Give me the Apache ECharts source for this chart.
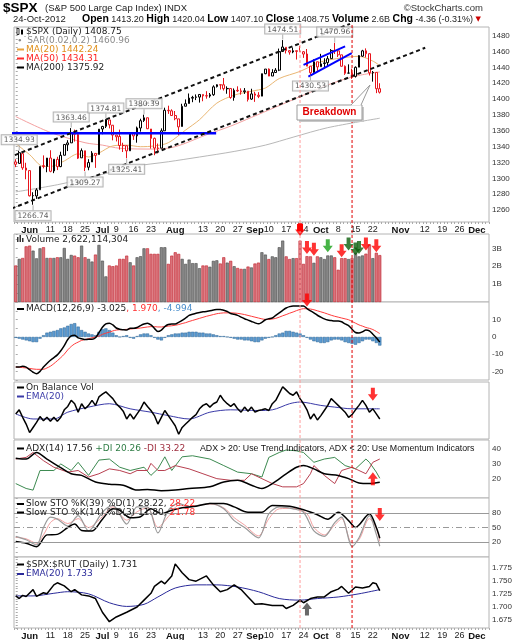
<!DOCTYPE html>
<html>
<head>
<meta charset="utf-8">
<script src="https://cdn.jsdelivr.net/npm/echarts@6.0.0/dist/echarts.min.js"></script>
<style>html,body{margin:0;padding:0;background:#fff;}</style>
</head>
<body>
<div id="main" style="width:529px;height:640px;"></div>
<script type="text/javascript">
// trading days on the axis: 25-May-2012 .. 6-Dec-2012
var holidays = ['2012-07-04', '2012-09-03'];
var dates = [];
var d = new Date(Date.UTC(2012, 4, 25));
while (dates.length < 137) {
	var s = d.toISOString().slice(0, 10), wd = d.getUTCDay();
	if (wd != 0 && wd != 6 && holidays.indexOf(s) < 0) dates.push(s);
	d.setUTCDate(d.getUTCDate() + 1);
}
var tickIdx = [4,10,15,20,25,29,34,39,46,54,59,64,69,73,78,83,88,93,98,103,111,118,123,128,133];
var tickText = ['Jun','11','18','25','Jul','9','16','23','Aug','13','20','27','Sep','10','17','24','Oct','8','15','22','Nov','12','19','26','Dec'];

// $SPX daily
var prevClose0 = 1320.68;
var opens = [1320.81,1318.90,1331.25,1313.09,1309.87,1278.29,1277.82,1285.61,1316.15,1314.99,1325.72,1309.40,1324.02,1314.88,1329.19,1342.42,1344.83,1358.04,1355.43,1325.92,1334.90,1314.09,1320.71,1331.52,1330.12,1362.33,1365.75,1373.72,1367.09,1354.66,1352.96,1341.40,1341.29,1334.81,1356.50,1353.68,1363.58,1373.01,1376.51,1362.34,1350.52,1338.35,1338.17,1360.05,1385.94,1385.27,1379.32,1375.13,1365.45,1391.04,1394.46,1401.23,1402.26,1402.58,1405.87,1404.36,1403.89,1405.57,1415.84,1417.85,1418.13,1413.09,1413.49,1401.99,1411.13,1410.44,1409.32,1410.08,1400.07,1406.54,1404.94,1403.74,1432.12,1437.92,1429.13,1433.56,1436.56,1460.07,1465.42,1461.19,1459.50,1461.05,1460.34,1459.76,1456.94,1441.60,1433.36,1447.13,1440.90,1444.99,1446.05,1451.08,1461.40,1460.93,1455.90,1441.48,1432.82,1432.84,1428.75,1440.31,1454.22,1460.94,1457.34,1433.21,1433.74,1413.20];
var highs = [1324.20,1334.93,1331.25,1319.74,1309.87,1282.55,1287.62,1315.13,1329.05,1325.81,1335.52,1324.31,1327.28,1333.68,1343.32,1348.22,1363.46,1361.57,1358.27,1337.82,1334.90,1324.24,1334.40,1331.52,1362.17,1366.35,1374.81,1373.85,1367.09,1354.87,1361.54,1345.00,1341.29,1357.70,1357.26,1365.36,1375.26,1380.39,1376.51,1362.34,1351.53,1343.98,1363.13,1389.19,1391.74,1387.16,1385.03,1375.13,1394.16,1399.63,1407.14,1404.14,1405.95,1405.98,1405.87,1410.03,1407.73,1417.44,1418.71,1418.13,1426.68,1416.12,1413.49,1413.46,1416.17,1413.63,1413.95,1410.08,1413.09,1409.31,1408.81,1432.12,1437.92,1438.74,1437.76,1439.15,1463.76,1474.51,1465.63,1461.47,1465.15,1461.23,1467.07,1460.72,1463.24,1441.60,1450.20,1447.13,1457.14,1451.52,1454.30,1463.14,1470.96,1460.93,1455.90,1442.52,1443.90,1438.43,1441.31,1455.51,1462.20,1464.02,1457.34,1435.46,1433.74,1420.04];
var lows = [1314.23,1318.90,1310.76,1298.90,1277.25,1266.74,1274.16,1285.61,1312.68,1307.77,1307.73,1306.62,1310.51,1314.14,1329.19,1334.46,1344.83,1346.45,1324.41,1325.92,1309.27,1310.30,1320.71,1313.29,1330.12,1355.70,1363.53,1363.02,1348.03,1346.65,1336.27,1333.25,1325.41,1334.81,1348.51,1345.07,1358.96,1371.21,1362.19,1337.56,1329.24,1331.50,1338.17,1360.05,1381.37,1379.17,1373.35,1354.65,1365.45,1391.04,1394.46,1396.13,1398.80,1395.62,1397.32,1400.60,1401.83,1404.15,1414.67,1412.12,1410.86,1406.78,1400.50,1398.04,1409.11,1405.59,1406.57,1397.01,1398.96,1396.56,1401.25,1403.74,1431.45,1428.98,1429.13,1432.99,1435.34,1460.07,1457.55,1456.13,1457.88,1449.98,1459.51,1452.06,1441.59,1430.53,1433.36,1435.60,1440.90,1439.01,1441.99,1451.08,1456.89,1453.10,1441.18,1430.64,1432.82,1425.53,1427.24,1440.31,1453.35,1452.63,1429.85,1422.06,1407.56,1407.10];
var closes = [1317.82,1332.42,1313.32,1310.33,1278.04,1278.18,1285.50,1315.13,1314.99,1325.66,1308.93,1324.18,1314.88,1329.10,1342.84,1344.78,1357.98,1355.69,1325.51,1335.02,1313.72,1319.99,1331.85,1329.04,1362.16,1365.51,1374.02,1367.58,1354.68,1352.46,1341.47,1341.45,1334.76,1356.78,1353.64,1363.67,1372.78,1376.51,1362.66,1350.52,1338.31,1337.89,1360.02,1385.97,1385.30,1379.32,1375.32,1365.00,1390.99,1394.23,1401.35,1402.22,1402.80,1405.87,1404.11,1403.93,1405.53,1415.51,1418.16,1418.13,1413.17,1413.49,1402.08,1411.13,1410.44,1409.30,1410.49,1399.48,1406.58,1404.94,1403.44,1432.12,1437.92,1429.08,1433.56,1436.56,1459.99,1465.77,1461.19,1459.32,1461.05,1460.26,1460.15,1456.89,1441.59,1433.32,1447.15,1440.67,1444.49,1445.75,1450.99,1461.40,1460.93,1455.88,1441.48,1432.56,1432.84,1428.59,1440.13,1454.92,1460.91,1457.34,1433.19,1433.82,1413.11,1408.75];
// volume, billions
var volume = [2.04,2.41,2.46,3.11,3.15,2.87,2.44,3.0,3.06,2.46,2.46,2.46,2.5,2.5,3.02,2.41,2.63,2.59,2.5,3.15,2.5,2.41,2.26,2.65,3.19,2.31,1.43,2.04,2.0,2.04,2.41,2.41,2.59,2.22,2.04,2.5,2.56,3.0,3.0,2.69,2.69,2.69,3.06,3.06,2.13,2.59,2.78,2.69,2.41,2.13,2.37,2.17,2.17,1.89,2.04,2.04,1.97,2.3,2.33,2.15,2.5,2.2,2.3,2.0,1.9,1.85,1.85,1.98,1.93,2.15,2.2,2.78,2.65,2.4,2.55,2.5,3.06,3.43,2.55,2.4,2.45,2.45,3.43,2.13,2.56,2.55,2.19,2.55,2.5,2.4,2.6,2.6,2.5,1.8,2.45,2.45,2.4,2.45,2.75,2.55,2.6,2.7,3.2,2.45,2.75,2.62];

// overlays: [day index, value]
var ma20 = [[0,1344],[4,1330],[8,1315],[10,1315],[14,1322],[18,1331],[21,1327],[24,1332],[28,1341],[32,1342],[36,1340],[40,1341],[44,1345],[49,1361],[53,1374],[58,1395],[63,1405],[68,1410],[72,1414],[76,1426],[82,1435],[88,1447],[94,1452],[99,1454],[103,1448],[105,1442.24]];
var ma50 = [[0,1378],[10,1358],[20,1345],[25,1342],[30,1338],[40,1337],[46,1340],[55,1355],[62,1366],[68,1377],[75,1390],[83,1405],[90,1418],[98,1429],[105,1434.31]];
var ma200 = [[0,1283],[12,1292],[24,1304],[34,1315],[44,1321],[53,1327],[63,1334],[72,1342],[80,1352],[90,1364],[105,1375.92]];
var hiLabelIdx = [1,16,26,37,77,92];
var hiLabelVal = [1334.93,1363.46,1374.81,1380.39,1474.51,1470.96];
var loLabelIdx = [5,20,32,85];
var loLabelVal = [1266.74,1309.27,1325.41,1430.53];
// hand drawn lines: [day position, price]
var upperTrend = [[-4,1323],[96.4,1495]];
var lowerTrend = [[-1.2,1262],[118.1,1464.8]];
var blueLevel = [[-4.5,1357],[57.8,1357]];
var flagTop = [[83,1443.3],[95,1466.5]];
var flagBottom = [[84.4,1428.5],[96.9,1458]];
var eventIdx = [82,97];

// MACD(12,26,9)
var macd = [-17.4,-17.5,-17,-17.5,-19,-20.5,-21.4,-20,-17.5,-15.4,-13.5,-12,-10.4,-8,-5,-1.5,0.6,1,-0.5,-1,-1.5,-1.4,-1.4,-0.5,2.5,5.6,7.6,8,7,5.2,4.5,4.2,4,5,5,5.5,6.6,7.5,8,7,5,3.2,4,6,7.2,7.5,7.5,8.5,9.6,11,12.5,13.2,13.8,14.2,14.6,14.8,15.2,15.6,16,16,15.5,14.8,13.6,13.2,12.5,11.5,10.6,9.8,9,8.2,7.6,8.5,10,10.6,11,12.5,14,15.5,16.8,17.6,18,18,18,18,16.5,15.2,14,12.6,11.5,10.5,9.8,9.5,9.2,9.3,8.8,7.6,6.6,4.5,2.6,2.3,3,4,3.5,1.6,-0.5,-3.025];
var macdSignal = [-17.4,-17.6,-17.8,-18,-18.3,-18.6,-18.8,-18.8,-18.8,-18,-17,-15.5,-13.8,-12,-10,-7.5,-5.5,-4,-3,-2,-1.5,-1,-0.5,0,0.5,1.5,2.2,2.8,3.5,4,4.2,4.3,4.4,4.6,4.8,5,5.2,5.5,5.8,6,6,5.8,5.8,6,6.3,6.5,6.8,7.2,7.8,8.3,9,9.6,10.2,10.8,11.4,12,12.5,13,13.5,13.8,14,14,14,13.9,13.7,13.4,13,12.5,12,11.5,11,10.5,10.2,10.2,10.4,10.8,11.5,12.3,13,13.8,14.5,15.3,16,16.4,16.4,16.2,15.8,15.2,14.6,14,13.3,12.6,12,11.5,11,10.5,10,9,8,7,6.3,5.5,5,4.3,3.2,1.97];
var macdHist = [-0.5,-1,-1.5,-2,-2.5,-3,-3,-1,1,2.5,3,3.5,4,5,5.5,6.5,7.5,8,6,4,3,2,1.5,1,3,4.5,5,4,2.5,1,0,0.5,1,-0.5,-1,0.5,1.5,2,2,1,-0.5,-1.5,-2,-0.5,1,1.5,2,2,2.5,2.5,3,3,3,2.5,2.5,2,2,1.5,1,0.5,0.5,0,-0.5,-1,-1.5,-1.5,-2,-2,-2.5,-3,-3,-2,-1,-0.5,0,1,2,2.5,3.5,3.5,3,2.5,2,1,-0.5,-1.5,-2.5,-3,-3.5,-3.5,-3,-2,-1.5,-1.5,-2,-3,-3.5,-4,-4.5,-3.5,-2.5,-1.5,-1.5,-2.5,-3.5,-4.994];

// On Balance Volume (relative units) and its EMA(20)
var obv = [7.0,8.2,6.0,4.0,1.5,3.0,4.5,6.2,5.0,6.0,4.8,6.0,4.8,6.0,8.2,9.2,11.0,10.0,7.5,10.0,8.5,9.5,11.0,9.5,12.0,12.8,13.5,12.5,11.5,10.0,9.0,7.8,5.5,7.0,5.5,7.0,8.5,10.5,9.2,8.0,6.5,4.0,6.0,8.0,6.5,5.0,3.5,1.0,3.0,4.0,5.0,6.0,6.8,8.5,9.5,10.0,9.0,10.0,10.5,12.5,11.0,10.0,9.2,10.0,8.5,7.5,9.0,7.8,9.0,7.5,8.0,8.2,8.5,8.0,10.0,11.0,13.0,15.0,14.0,13.0,12.5,13.5,11.5,10.0,8.2,5.5,7.0,5.2,6.5,8.0,9.5,11.5,10.5,9.5,8.5,7.5,6.0,6.8,8.2,9.5,11.0,9.5,7.5,8.5,7.0,5.5];
var obvEma = [[0,7.0],[5,5.5],[11,5.5],[15,7.5],[21,9.0],[27,10.0],[33,8.5],[39,7.5],[44,6.5],[50,5.5],[56,7.5],[62,8.2],[70,8.0],[74,8.2],[79,10.0],[82,10.5],[88,9.5],[92,9.0],[97,8.5],[101,8.5],[105,8.5]];

// ADX(14), +DI, -DI
var adx = [[0,33.8],[3,33.2],[6,37.6],[9,33.2],[12,28.8],[16,23.3],[19,22.2],[23,17.8],[27,16.3],[31,15.6],[35,12.3],[38,12.7],[42,11.9],[46,12.3],[50,13.4],[56,14.5],[60,17.8],[64,18.9],[68,15.6],[71,13.4],[74,16.7],[78,23.3],[81,27.7],[83,28.8],[86,26.6],[89,23.3],[93,22.2],[96,20],[99,17.1],[102,16.7],[105,17.56]];
var diPlus = [[0,16.7],[3,13.4],[5,12.3],[7,25.5],[11,25.5],[13,29.9],[16,25.5],[18,31],[21,22.2],[24,32.5],[27,33.2],[30,27.7],[33,25.5],[37,27.7],[39,22.2],[41,26.6],[43,34.7],[45,25.5],[48,34.7],[51,35.4],[56,33.2],[60,28.8],[64,24.4],[68,23.3],[71,21.1],[73,34.3],[76,37.6],[78,39.3],[81,38.7],[83,37.6],[86,31],[89,33.2],[92,34.3],[95,28.8],[98,26.6],[101,33.2],[102,31],[104,24.4],[105,20.26]];
var diMinus = [[0,33.2],[3,34.3],[5,37.6],[8,32.1],[11,27.7],[15,24.4],[18,25.5],[21,21.1],[24,23.3],[27,26.6],[30,25.5],[33,23.3],[35,25.5],[38,25.5],[39,30.3],[41,25.5],[43,25.5],[46,28.8],[50,26.6],[54,23.3],[58,20],[62,18.9],[66,18.9],[68,23.3],[71,20],[74,16.7],[77,14.5],[81,14.5],[83,16.7],[85,23.3],[86,28.8],[89,22.2],[92,16.7],[94,25.5],[97,27.7],[99,25.5],[101,23.3],[103,31],[105,33.22]];

// Slow stochastics
var stoK39 = [[0,21.5],[3,18],[6,11],[9,35],[12,36],[15,50],[17,57],[19,44],[22,43],[25,67],[28,88],[30,85],[33,70],[36,72],[39,88],[42,78],[45,85],[48,90],[52,93],[56,99],[60,99],[63,92],[67,81],[71,81],[74,95],[79,93],[83,86],[87,76],[90,67],[93,81],[96,64],[98,50],[99,55],[102,78],[104,50],[105,28.22]];
var stoK14 = [[0,32],[3,25],[6,14.5],[8,50],[10,71],[12,67],[15,53],[18,74],[21,43],[25,81],[28,95],[32,57],[35,92],[38,92],[41,39],[44,85],[47,99],[50,92],[56,99],[60,88],[63,64],[66,50],[70,29],[73,78],[76,92],[80,88],[83,81],[86,43],[89,32],[92,60],[94,71],[97,11],[99,29],[102,74],[104,36],[105,11.8]];
var stoD3 = [[0,30],[3,27],[6,18],[8,35],[10,60],[12,68],[15,58],[18,68],[21,50],[25,72],[28,92],[32,65],[35,82],[38,90],[41,50],[44,72],[47,95],[50,93],[56,98],[60,90],[63,70],[66,55],[70,33],[73,68],[76,88],[80,89],[84,78],[86,50],[89,35],[92,55],[94,68],[97,18],[99,25],[102,68],[104,48],[105,21.78]];

// $SPX:$RUT ratio
var ratio = [[0,1.721],[1,1.716],[2,1.722],[3,1.720],[5,1.733],[6,1.720],[8,1.727],[9,1.725],[11,1.742],[12,1.746],[14,1.740],[16,1.729],[17,1.733],[19,1.723],[21,1.721],[23,1.716],[25,1.690],[27,1.672],[29,1.681],[32,1.690],[35,1.700],[37,1.713],[39,1.726],[40,1.739],[42,1.749],[43,1.744],[45,1.759],[46,1.782],[48,1.765],[50,1.752],[52,1.749],[55,1.759],[57,1.742],[59,1.729],[61,1.733],[63,1.742],[65,1.733],[67,1.719],[69,1.705],[71,1.706],[74,1.703],[77,1.703],[78,1.697],[80,1.703],[82,1.713],[83,1.708],[85,1.716],[87,1.719],[89,1.719],[91,1.729],[93,1.734],[94,1.739],[96,1.726],[98,1.738],[100,1.736],[102,1.739],[103,1.746],[104,1.744],[105,1.731]];
var ratioEma = [[0,1.721],[5,1.721],[11,1.726],[15,1.729],[21,1.725],[27,1.708],[32,1.701],[37,1.705],[41,1.719],[46,1.736],[52,1.742],[58,1.742],[64,1.738],[70,1.729],[76,1.716],[82,1.713],[87,1.716],[93,1.719],[99,1.725],[105,1.733]];

// arrows: [day index, value]
var volArrowsRed = [[82,4.05],[84,3.05],[86,2.95],[94,2.87],[101,3.24],[104,3.15]];
var volArrowsGreen = [[90,3.15]];
var volArrowsDark = [[96,3.24],[98,2.96],[99,3.05]];
var macdArrow = [[84,21.4]];
var obvArrow = [[103,12.8]];
var adxArrow = [[103,20]];
var stoArrow = [[105,76.5]];
var ratioArrow = [[84,1.696]];

var RED = '#e8141c';
var ARROW_DOWN = 'path://M3,0H7V6H10L5,12L0,6H3Z';
var ARROW_UP = 'path://M5,0L10,6H7V12H3V6H0Z';
var panels = [[27,195],[234,68],[302,78],[382,57],[440,58],[498,59],[557,71]];

function isDown(i) { return closes[i] < (i ? closes[i-1] : prevClose0); }
function tickShown(i) { return tickIdx.indexOf(i) >= 0; }

var xAxes = [], yAxes = [];
panels.forEach(function (p, g) {
	var lab = (g == 0 || g == 6);
	xAxes.push({
		type: 'category', gridIndex: g, data: dates, boundaryGap: true,
		axisLine: {show: false},
		axisTick: {show: lab, interval: 0, length: 2, lineStyle: {color: '#aaa'}},
		axisLabel: {
			show: lab, interval: function (i) { return tickShown(i); }, margin: 3,
			fontSize: 9, fontFamily: 'Liberation Sans', color: '#222',
			formatter: function (v, i) {
				var t = tickText[tickIdx.indexOf(i)];
				return /^[A-Z]/.test(t) ? '{m|' + t + '}' : t;
			},
			rich: {m: {fontWeight: 'bold', fontSize: 9.5, fontFamily: 'Liberation Sans', color: '#111'}}
		},
		splitLine: {show: false}
	});
});
panels.forEach(function (p, g) {
	xAxes.push({type: 'value', gridIndex: g, min: -0.5, max: dates.length - 0.5, show: false});
});
function yAx(g, min, max, interval, fmt, tick) {
	var a = {
		type: 'value', gridIndex: g, position: 'right', min: min, max: max,
		splitLine: {show: false}, axisLine: {show: false},
		axisTick: {show: !!tick, length: 2, lineStyle: {color: '#aaa'}},
		axisLabel: {show: !!fmt, formatter: fmt, fontSize: 8, color: '#333', fontFamily: 'Liberation Sans', margin: 3}
	};
	if (interval) a.interval = interval;
	return a;
}
yAxes.push(yAx(0, 1245, 1491, 5, function (v) { return v % 20 === 0 ? String(v) : ''; }, true));
yAxes.push(yAx(1, 0, 3.8, 0.5, function (v) { return (v > 0 && Math.abs(v - Math.round(v)) < 1e-6) ? Math.round(v) + 'B' : ''; }, true));
yAxes.push(yAx(2, -25, 20.3, 5, function (v) { var r = Math.round(v); return (r % 10 === 0 && r >= -20 && r <= 10) ? String(r) : ''; }, true));
yAxes.push(yAx(3, -0.4, 16.4, null, null, false));
yAxes.push(yAx(4, 7, 46, 1, function (v) { return (v % 10 === 0 && v >= 20 && v <= 40) ? String(v) : ''; }, false));
yAxes.push(yAx(5, -10, 110, 10, function (v) { return (v === 20 || v === 50 || v === 80) ? String(v) : ''; }, true));
yAxes.push(yAx(6, 1.66, 1.795, 0.005, function (v) { var m = Math.round(v * 1000); return (m % 25 === 0 && m >= 1675 && m <= 1775) ? (m / 1000).toFixed(3) : ''; }, true));

function line(g, data, color, width, smooth, z) {
	return {type: 'line', xAxisIndex: g, yAxisIndex: g, data: data, symbol: 'none', smooth: smooth ? 0.3 : false,
		lineStyle: {color: color, width: width}, silent: true, z: z || 2};
}
function drawn(data, color, width, dash) {
	return {type: 'line', xAxisIndex: 7, yAxisIndex: 0, data: data, symbol: 'none', clip: false, silent: true,
		lineStyle: {color: color, width: width, type: dash ? [4, 3] : 'solid'}, z: 12};
}
function arrows(g, pts, color, up) {
	return {type: 'scatter', xAxisIndex: g, yAxisIndex: g, data: pts, symbol: up ? ARROW_UP : ARROW_DOWN,
		symbolSize: [10, 13], itemStyle: {color: color}, clip: false, silent: true, z: 20};
}
function priceLabels(idx, val, above) {
	return {type: 'scatter', xAxisIndex: 0, yAxisIndex: 0, silent: true, clip: false, z: 15,
		data: idx.map(function (x, i) { return [x, val[i]]; }),
		symbol: 'rect', symbolSize: [1, 5], symbolOffset: [0, above ? -3 : 3], itemStyle: {color: '#999'},
		label: {show: true, position: above ? 'top' : 'bottom', distance: 1,
			formatter: function (p) { return p.value[1].toFixed(2); },
			fontSize: 7.5, fontFamily: 'DejaVu Sans', color: '#333', backgroundColor: '#fff',
			borderColor: '#a0a0a0', borderWidth: 1, padding: [1, 2, 0, 2]}};
}

var series = [
	line(0, ma200, '#b8b8b8', 1, true, 1),
	line(0, ma50, '#f4a0a0', 1, true, 1),
	line(0, ma20, '#eab774', 1, true, 1),
	{type: 'candlestick', xAxisIndex: 0, yAxisIndex: 0, barWidth: '62%', silent: true, z: 3,
		data: closes.map(function (c, i) {
			var col = isDown(i) ? RED : '#000';
			return {value: [opens[i], c, lows[i], highs[i]],
				itemStyle: {color: '#fff', color0: col, borderColor: col, borderColor0: col, borderColorDoji: col, borderWidth: 1}};
		})},
	drawn(blueLevel, '#0000ff', 2.5, false),
	drawn(upperTrend, '#111', 2, true),
	drawn(lowerTrend, '#111', 2, true),
	drawn(flagTop, '#0000ff', 2, false),
	drawn(flagBottom, '#0000ff', 2, false),
	priceLabels(hiLabelIdx, hiLabelVal, true),
	priceLabels(loLabelIdx, loLabelVal, false),
	{type: 'bar', xAxisIndex: 1, yAxisIndex: 1, barCategoryGap: '12%', silent: true,
		data: volume.map(function (v, i) {
			return {value: v, itemStyle: isDown(i) ? {color: '#d8747c', borderColor: '#c4202c', borderWidth: 0.6}
				: {color: '#888888', borderColor: '#4a4a4a', borderWidth: 0.6}};
		})},
	arrows(1, volArrowsRed, '#ff0000', false),
	arrows(1, volArrowsGreen, '#18a018', false),
	arrows(1, volArrowsDark, '#0b5e0b', false),
	{type: 'bar', xAxisIndex: 2, yAxisIndex: 2, data: macdHist, barCategoryGap: '8%', silent: true,
		itemStyle: {color: '#5b9bd2', borderColor: '#2c6495', borderWidth: 0.5}},
	line(2, macdSignal, '#ff3b3b', 1, true, 3),
	line(2, macd, '#000', 1.5, true, 4),
	arrows(2, macdArrow, '#ff0000', false),
	line(3, obvEma, '#3a3aa8', 1, true, 2),
	line(3, obv, '#000', 1.5, false, 3),
	arrows(3, obvArrow, '#ff0000', false),
	line(4, diPlus, '#3c8a50', 1, false, 2),
	line(4, diMinus, '#b84050', 1, false, 2),
	line(4, adx, '#000', 1.5, true, 3),
	arrows(4, adxArrow, '#ff0000', true),
	{type: 'line', xAxisIndex: 5, yAxisIndex: 5, data: stoD3, symbol: 'none', smooth: 0.3, silent: true,
		lineStyle: {color: '#f4a0a0', width: 1}, z: 2,
		markLine: {silent: true, symbol: 'none', label: {show: false},
			lineStyle: {color: '#999', width: 1, type: 'solid'},
			data: [{yAxis: 80}, {yAxis: 20}, {yAxis: 50, lineStyle: {type: [6, 3, 1, 3], color: '#999'}}]}},
	line(5, stoK14, '#9a9a9a', 1.2, true, 3),
	line(5, stoK39, '#000', 1.5, true, 4),
	arrows(5, stoArrow, '#ff0000', false),
	line(6, ratioEma, '#2a2a9a', 1, true, 2),
	line(6, ratio, '#000', 1.5, false, 3),
	arrows(6, ratioArrow, '#444', true)
];

var option = {
	animation: false,
	backgroundColor: '#fff',
	grid: panels.map(function (p) {
		return {left: 14, right: 40, top: p[0], height: p[1], show: true, borderColor: '#b4b4b4', borderWidth: 1,
			backgroundColor: '#fff', containLabel: false, outerBoundsMode: 'none'};
	}),
	xAxis: xAxes,
	yAxis: yAxes,
	series: series
};

var myChart = echarts.init(document.getElementById('main'));
myChart.setOption(option);

// texts, legends and annotations
function txt(x, y, text, color, size, fam, rich, bold) {
	return {type: 'text', x: x, y: y, z: 100, silent: true,
		style: {text: text, rich: rich || {}, fontSize: size || 9, fontFamily: fam || 'DejaVu Sans',
			fontWeight: bold ? 'bold' : 'normal', fill: color || '#222', verticalAlign: 'middle', align: 'left'}};
}
function mk(x, y, color) {
	return {type: 'rect', z: 100, silent: true, shape: {x: x, y: y - 1, width: 7, height: 2}, style: {fill: color}};
}
function rs(color, size, fam, bold) {
	return {fill: color, fontSize: size || 9, fontFamily: fam || 'DejaVu Sans', fontWeight: bold ? 'bold' : 'normal'};
}
var gr = [];
// header
gr.push(txt(3, 8.5, '$SPX', '#000', 13.5, 'Liberation Sans', null, true));
gr.push(txt(45, 8.5, '(S&P 500 Large Cap Index) INDX', '#222', 9.5, 'Liberation Sans'));
gr.push({type: 'text', x: 483, y: 8, z: 100, silent: true, style: {text: '\u00a9StockCharts.com', fontSize: 9.5, fontFamily: 'Liberation Sans', fill: '#333', verticalAlign: 'middle', align: 'right'}});
gr.push(txt(13, 19.5, '24-Oct-2012', '#222', 9.5, 'Liberation Sans'));
gr.push(txt(82, 19.5, '{b|Open} {n|1413.20} {b|High} {n|1420.04} {b|Low} {n|1407.10} {b|Close} {n|1408.75} {b|Volume} {n|2.6B} {b|Chg} {n|-4.36 (-0.31%)} {r|\u25bc}', '#000', 9, 'Liberation Sans',
	{b: rs('#000', 10.5, 'Liberation Sans', true), n: rs('#222', 9, 'Liberation Sans'), r: rs('#cc0000', 7, 'DejaVu Sans')}));
// price legend
gr.push({type: 'rect', z: 100, silent: true, shape: {x: 17, y: 28.5, width: 2, height: 6}, style: {fill: '#fff', stroke: '#000', lineWidth: 0.8}});
gr.push({type: 'rect', z: 100, silent: true, shape: {x: 21, y: 29.5, width: 2, height: 5}, style: {fill: '#000'}});
gr.push(txt(26, 31.5, '$SPX (Daily) 1408.75', '#222'));
gr.push(txt(17, 40.5, '\u2219\u02d9SAR(0.02,0.2) 1460.96', '#8a8a8a'));
gr.push(mk(17, 49.5, '#e8a33c'), txt(26, 49.5, 'MA(20) 1442.24', '#e0901c'));
gr.push(mk(17, 58.5, '#ff2a2a'), txt(26, 58.5, 'MA(50) 1434.31', '#ff2020'));
gr.push(mk(17, 67.5, '#000'), txt(26, 67.5, 'MA(200) 1375.92', '#222'));
// volume legend
gr.push({type: 'rect', z: 100, silent: true, shape: {x: 17, y: 237, width: 1.5, height: 5}, style: {fill: '#333'}});
gr.push({type: 'rect', z: 100, silent: true, shape: {x: 19.5, y: 235, width: 1.5, height: 7}, style: {fill: '#333'}});
gr.push({type: 'rect', z: 100, silent: true, shape: {x: 22, y: 238, width: 1.5, height: 4}, style: {fill: '#333'}});
gr.push(txt(26, 239.5, 'Volume 2,622,114,304', '#222'));
// MACD legend
gr.push(mk(17, 309, '#000'), txt(26, 309, '{k|MACD(12,26,9) -3.025}{r|, 1.970}{b|, -4.994}', '#222', 9, null,
	{k: rs('#222'), r: rs('#ff3030'), b: rs('#4a8fcc')}));
// OBV legend
gr.push(mk(17, 387.5, '#000'), txt(26, 387.5, 'On Balance Vol', '#222'));
gr.push(mk(17, 396.5, '#3a3aa8'), txt(26, 396.5, 'EMA(20)', '#3a3aa8'));
// ADX legend
gr.push(mk(17, 448.5, '#000'), txt(26, 448.5, '{k|ADX(14) 17.56 }{g|+DI 20.26 }{r|-DI 33.22}', '#222', 9, null,
	{k: rs('#222'), g: rs('#2f7d45'), r: rs('#a03040')}));
gr.push(txt(200, 448.5, 'ADX > 20: Use Trend Indicators, ADX < 20: Use Momentum Indicators', '#111', 8.8, 'Liberation Sans'));
// STO legend
gr.push(mk(17, 504, '#000'), txt(26, 504, '{k|Slow STO %K(39) %D(1) 28.22, }{r|28.22}', '#222', 9, null, {k: rs('#222'), r: rs('#ff3030')}));
gr.push(mk(17, 512.5, '#000'), txt(26, 512.5, '{k|Slow STO %K(14) %D(3) 11.80, }{r|21.78}', '#222', 9, null, {k: rs('#222'), r: rs('#ff3030')}));
// ratio legend
gr.push(mk(17, 564.5, '#000'), txt(26, 564.5, '$SPX:$RUT (Daily) 1.731', '#222'));
gr.push(mk(17, 574, '#2a2a9a'), txt(26, 574, 'EMA(20) 1.733', '#2a2a9a'));
// Breakdown callout
gr.push({type: 'rect', z: 90, silent: true, shape: {x: 299, y: 107, width: 65, height: 15}, style: {fill: '#c8c8c8'}});
gr.push({type: 'rect', z: 91, silent: true, shape: {x: 297, y: 105, width: 65, height: 15}, style: {fill: '#fff', stroke: '#9a9a9a', lineWidth: 1}});
gr.push({type: 'polygon', z: 92, silent: true, shape: {points: [[351, 105.6], [361, 105.6], [370, 85]]}, style: {fill: '#fff'}});
gr.push({type: 'polyline', z: 93, silent: true, shape: {points: [[351, 105], [370, 85], [361, 105]]}, style: {stroke: '#9a9a9a', lineWidth: 1, fill: null}});
gr.push({type: 'text', x: 329.5, y: 112.5, z: 94, silent: true, style: {text: 'Breakdown', fontSize: 10, fontWeight: 'bold', fontFamily: 'Liberation Sans', fill: '#e00000', align: 'center', verticalAlign: 'middle'}});
// event lines through all panels
var eventColor = ['#ff9c9c', '#e00000'];
eventIdx.forEach(function (e, k) {
	var px = myChart.convertToPixel({xAxisIndex: 7}, e);
	gr.push({type: 'line', z: 60, silent: true, shape: {x1: px, y1: 25, x2: px, y2: 628},
		style: {stroke: eventColor[k], lineWidth: 1, lineDash: [3, 2]}});
	if (k == 0) gr.push({type: 'rect', z: 61, silent: true, shape: {x: px - 3, y: 224, width: 6, height: 7}, style: {fill: '#ff0000'}});
});
myChart.setOption({graphic: gr});
</script>
</body>
</html>
